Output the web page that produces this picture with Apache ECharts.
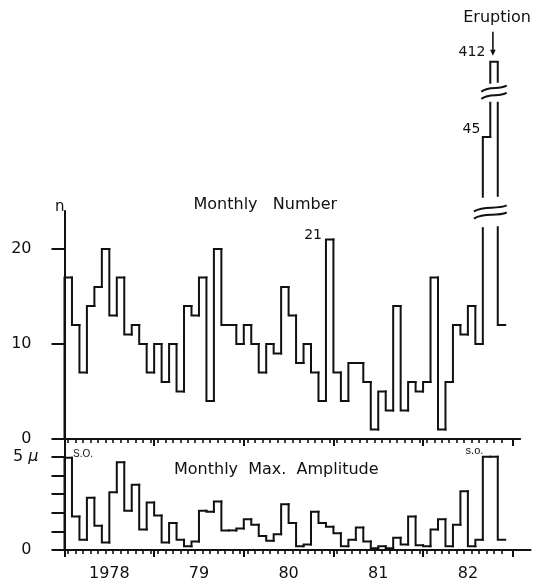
<!DOCTYPE html>
<html>
<head>
<meta charset="utf-8">
<script src="https://cdn.jsdelivr.net/npm/echarts@6/dist/echarts.min.js"></script>
<style>
html,body{margin:0;padding:0;background:#fff;}
#c{width:533px;height:584px;}
</style>
</head>
<body>
<div id="c"></div>
<script>
// ---------------- DATA ----------------
// Months from Jan 1978 (index 0) to Nov 1982 (index 58)
const yearLabels = ['1978', '79', '80', '81', '82'];
const yearLabelMonths = [6, 18, 30, 42, 54];
const yearBoundaryMonths = [0, 12, 24, 36, 48, 60];

const monthlyNumber = [
  17, 12, 7, 14, 16, 20, 13, 17, 11, 12, 10, 7,
  10, 6, 10, 5, 14, 13, 17, 4, 20, 12, 12, 10,
  12, 10, 7, 10, 9, 16, 13, 8, 10, 7, 4, 21,
  7, 4, 8, 8, 6, 1, 5, 3, 14, 3, 6, 5,
  6, 17, 1, 6, 12, 11, 14, 10, 45, 412, 12
];

const monthlyMaxAmplitude = [
  4.95, 1.8, 0.55, 2.8, 1.3, 0.4, 3.1, 4.7, 2.1, 3.5, 1.1, 2.55,
  1.85, 0.4, 1.45, 0.55, 0.2, 0.45, 2.1, 2.05, 2.6, 1.05, 1.05, 1.15,
  1.65, 1.35, 0.75, 0.5, 0.85, 2.45, 1.45, 0.2, 0.3, 2.05, 1.45, 1.25,
  0.9, 0.2, 0.55, 1.2, 0.45, 0.1, 0.2, 0.1, 0.65, 0.3, 1.8, 0.25,
  0.2, 1.1, 1.65, 0.2, 1.35, 3.15, 0.2, 0.55, 5, 5, 0.55
];

const numberTicks = [0, 10, 20];
const amplitudeTicks = [0, 1, 2, 3, 4, 5];
const amplitudeLabels = [0, 5];

// broken value axis of the upper panel (value ranges hidden, gap in axis units)
const axisBreaks = [
  { start: 22.3, end: 38.7, gap: 3.2 },
  { start: 48.7, end: 409.8, gap: 2.0 }
];

const numberNotes = [
  { month: 35, text: '21' },
  { month: 56, text: '45' },
  { month: 57, text: '412' }
];
const amplitudeNotes = [
  { month: 0, text: 'S.O.' },
  { month: 56, text: 's.o.' }
];
const eruptionNote = { month: 57, text: 'Eruption' };

// ---------------- STYLE / LAYOUT ----------------
const INK = '#111';
const FONT = 'DejaVu Sans';
const MONTH_PX = 7.47;
const X0 = 64.5;
const TOP_XMAX = 61, BOT_XMAX = 62.4;

// note placement (pixel offsets from the bar's top-left corner)
const numberNoteStyle = [
  { dx: -4, dy: -4.5, align: 'right' },
  { dx: -2.5, dy: -8, align: 'right' },
  { dx: -5, dy: -9, align: 'right' }
];
const amplitudeNoteStyle = [
  { dx: 8.5, dy: -3, align: 'left', size: 10 },
  { dx: 0.5, dy: -6, align: 'right', size: 11 }
];

function toDisp(v) {
  let shift = 0;
  for (const b of axisBreaks) {
    if (v >= b.end) {
      shift += (b.end - b.start) - b.gap;
    } else if (v > b.start) {
      return b.start - shift + (v - b.start) / (b.end - b.start) * b.gap;
    }
  }
  return v - shift;
}

function visibleSegments(a, b) {
  const lo = Math.min(a, b), hi = Math.max(a, b);
  if (lo === hi) return [[lo, hi]];
  const segs = [];
  let cur = lo;
  for (const br of axisBreaks) {
    if (br.end <= cur || br.start >= hi) continue;
    if (br.start > cur) segs.push([cur, br.start]);
    cur = Math.max(cur, br.end);
  }
  if (cur < hi) segs.push([cur, hi]);
  return segs;
}

function stepRender(values, useBreaks) {
  const tf = useBreaks ? toDisp : (x => x);
  return function (params, api) {
    const i = params.dataIndex;
    const v = values[i];
    const prev = i === 0 ? 0 : values[i - 1];
    const segs = useBreaks ? visibleSegments(prev, v)
                           : [[Math.min(prev, v), Math.max(prev, v)]];
    const style = { stroke: INK, lineWidth: 2, fill: null, lineJoin: 'miter', lineCap: 'square' };
    const children = [];
    segs.forEach(seg => {
      const a = api.coord([i, tf(seg[0])]);
      const b = api.coord([i, tf(seg[1])]);
      if (seg[0] === v || seg[1] === v) {
        const far = (seg[0] === v) ? b : a;
        const corner = api.coord([i, tf(v)]);
        const end = api.coord([i + 1, tf(v)]);
        children.push({ type: 'polyline', shape: { points: [far, corner, end] }, style: style });
      } else {
        children.push({ type: 'line', shape: { x1: a[0], y1: a[1], x2: b[0], y2: b[1] },
          style: Object.assign({}, style, { lineCap: 'butt' }) });
      }
    });
    return { type: 'group', children: children };
  };
}

function breakRender(params, api) {
  const br = axisBreaks[params.dataIndex];
  const crossing = [];
  monthlyNumber.forEach((v, i) => {
    const prev = i === 0 ? 0 : monthlyNumber[i - 1];
    if (Math.min(prev, v) < br.start && Math.max(prev, v) > br.end) crossing.push(i);
  });
  if (!crossing.length) return null;
  const mid = toDisp(br.start) + br.gap / 2;
  const L = api.coord([Math.min(...crossing) - 1.2, mid]);
  const R = api.coord([Math.max(...crossing) + 1.2, mid]);
  const w = R[0] - L[0];
  const rise = 6, sep = 3.6;
  const children = [-sep, sep].map(off => ({
    type: 'bezierCurve',
    shape: {
      x1: L[0], y1: L[1] + off + rise / 2,
      cpx1: L[0] + w * 0.35, cpy1: L[1] + off - rise * 0.55,
      cpx2: L[0] + w * 0.65, cpy2: L[1] + off + rise * 0.25,
      x2: R[0], y2: R[1] + off - rise / 2
    },
    style: { stroke: INK, lineWidth: 2, fill: null }
  }));
  return { type: 'group', children: children };
}

function numberNoteRender(params, api) {
  const n = numberNotes[params.dataIndex];
  const s = numberNoteStyle[params.dataIndex];
  const p = api.coord([n.month, toDisp(monthlyNumber[n.month])]);
  return {
    type: 'text', x: p[0] + s.dx, y: p[1] + s.dy,
    style: { text: n.text, fill: INK, fontSize: 14, fontFamily: FONT, fontWeight: 'normal',
      align: s.align, verticalAlign: 'middle' }
  };
}

function eruptionRender(params, api) {
  const m = eruptionNote.month;
  const top = api.coord([m + 0.35, toDisp(monthlyNumber[m])]);
  const x = top[0], y = top[1];
  const tc = api.coord([m + 0.9, toDisp(monthlyNumber[m])]);
  return {
    type: 'group',
    children: [
      { type: 'line', shape: { x1: x, y1: y - 30, x2: x, y2: y - 11 },
        style: { stroke: INK, lineWidth: 1.6 } },
      { type: 'polygon', shape: { points: [[x - 2.8, y - 12], [x + 2.8, y - 12], [x, y - 6]] },
        style: { fill: INK } },
      { type: 'text', x: tc[0], y: y - 44,
        style: { text: eruptionNote.text, fill: INK, fontSize: 16, fontFamily: FONT,
          align: 'center', verticalAlign: 'middle' } }
    ]
  };
}

function amplitudeNoteRender(params, api) {
  const n = amplitudeNotes[params.dataIndex];
  const s = amplitudeNoteStyle[params.dataIndex];
  const p = api.coord([n.month, monthlyMaxAmplitude[n.month]]);
  return {
    type: 'text', x: p[0] + s.dx, y: p[1] + s.dy,
    style: { text: n.text, fill: INK, fontSize: s.size, fontFamily: 'Liberation Sans',
      align: s.align, verticalAlign: 'middle' }
  };
}

const lineAxisY = (grid, max) => ({
  gridIndex: grid, type: 'value', position: 'left', min: 0, max: max,
  axisLine: { show: true, lineStyle: { color: INK, width: 2 } },
  axisTick: { show: false }, axisLabel: { show: false }, splitLine: { show: false }
});

const chart = echarts.init(document.getElementById('c'), null, { renderer: 'canvas', width: 533, height: 584 });

const option = {
  animation: false,
  backgroundColor: '#fff',
  textStyle: { fontFamily: FONT, color: INK },
  title: [
    { text: 'Monthly   Number', left: 193.5, top: 197, padding: 0,
      textStyle: { fontSize: 16, fontWeight: 'normal', fontFamily: FONT, color: INK } },
    { text: 'Monthly  Max.  Amplitude', left: 174, top: 462, padding: 0,
      textStyle: { fontSize: 16, fontWeight: 'normal', fontFamily: FONT, color: INK } }
  ],
  grid: [
    { left: X0, top: 211, width: TOP_XMAX * MONTH_PX, height: 228, containLabel: false },
    { left: X0, top: 439, width: BOT_XMAX * MONTH_PX, height: 111, containLabel: false }
  ],
  xAxis: [
    { gridIndex: 0, type: 'value', position: 'bottom', min: 0, max: TOP_XMAX,
      axisLine: { show: true, lineStyle: { color: INK, width: 2 } },
      axisTick: { show: true, length: 4, customValues: monthlyNumber.map((_, i) => i + 0.5),
        lineStyle: { color: INK, width: 1.6 } },
      axisLabel: { show: false }, splitLine: { show: false } },
    { gridIndex: 0, type: 'value', position: 'bottom', min: 0, max: TOP_XMAX,
      axisLine: { show: false },
      axisTick: { show: true, length: 7, customValues: yearBoundaryMonths, lineStyle: { color: INK, width: 2 } },
      axisLabel: { show: false }, splitLine: { show: false } },
    { gridIndex: 1, type: 'value', position: 'bottom', min: 0, max: BOT_XMAX,
      axisLine: { show: true, lineStyle: { color: INK, width: 2 } },
      axisTick: { show: true, length: 4, customValues: monthlyMaxAmplitude.map((_, i) => i + 0.5),
        lineStyle: { color: INK, width: 1.6 } },
      axisLabel: { show: false }, splitLine: { show: false } },
    { gridIndex: 1, type: 'value', position: 'bottom', min: 0, max: BOT_XMAX,
      axisLine: { show: false },
      axisTick: { show: true, length: 7, customValues: yearBoundaryMonths, lineStyle: { color: INK, width: 2 } },
      axisLabel: { show: true, customValues: yearLabelMonths, margin: 16,
        fontSize: 16, fontFamily: FONT, color: INK,
        formatter: v => yearLabels[yearLabelMonths.indexOf(Math.round(v))] || '' },
      splitLine: { show: false } }
  ],
  yAxis: [
    lineAxisY(0, 24),
    { gridIndex: 0, type: 'value', position: 'left', offset: 4, min: 0, max: 24,
      name: 'n', nameLocation: 'end', nameGap: 4,
      nameTextStyle: { fontSize: 15, fontFamily: FONT, color: INK, align: 'right', verticalAlign: 'middle' },
      axisLine: { show: false },
      axisTick: { show: true, length: 13, customValues: numberTicks, lineStyle: { color: INK, width: 2 } },
      axisLabel: { show: true, customValues: numberTicks, margin: 29, fontSize: 16, fontFamily: FONT, color: INK },
      splitLine: { show: false } },
    lineAxisY(1, 5.95),
    { gridIndex: 1, type: 'value', position: 'left', offset: 4, min: 0, max: 5.95,
      axisLine: { show: false },
      axisTick: { show: true, length: 13, customValues: amplitudeTicks, lineStyle: { color: INK, width: 2 } },
      axisLabel: { show: true, customValues: amplitudeLabels, margin: 22, fontSize: 16, fontFamily: FONT, color: INK,
        formatter: v => v === 5 ? '5 {u|μ}' : '{z|' + v + '}',
        rich: { u: { fontSize: 16, fontStyle: 'italic', fontFamily: FONT, color: INK },
                z: { fontSize: 16, fontFamily: FONT, color: INK, padding: [0, 7, 0, 0] } } },
      splitLine: { show: false } }
  ],
  series: [
    { type: 'custom', name: 'Monthly Number', xAxisIndex: 0, yAxisIndex: 0, clip: false, z: 5,
      data: monthlyNumber.map((v, i) => [i, v]),
      renderItem: stepRender(monthlyNumber, true) },
    { type: 'custom', name: 'breaks', xAxisIndex: 0, yAxisIndex: 0, clip: false, z: 6,
      data: axisBreaks.map((b, i) => [i, b.start]),
      encode: { x: -1, y: -1 },
      renderItem: breakRender },
    { type: 'custom', name: 'notes', xAxisIndex: 0, yAxisIndex: 0, clip: false, z: 6,
      data: numberNotes.map(n => [n.month, monthlyNumber[n.month]]),
      renderItem: numberNoteRender },
    { type: 'custom', name: 'eruption', xAxisIndex: 0, yAxisIndex: 0, clip: false, z: 6,
      data: [[eruptionNote.month, monthlyNumber[eruptionNote.month]]],
      renderItem: eruptionRender },
    { type: 'custom', name: 'Monthly Max. Amplitude', xAxisIndex: 2, yAxisIndex: 2, clip: false, z: 5,
      data: monthlyMaxAmplitude.map((v, i) => [i, v]),
      renderItem: stepRender(monthlyMaxAmplitude, false) },
    { type: 'custom', name: 'amp notes', xAxisIndex: 2, yAxisIndex: 2, clip: false, z: 6,
      data: amplitudeNotes.map(n => [n.month, monthlyMaxAmplitude[n.month]]),
      renderItem: amplitudeNoteRender }
  ]
};
chart.setOption(option);
</script>
</body>
</html>
